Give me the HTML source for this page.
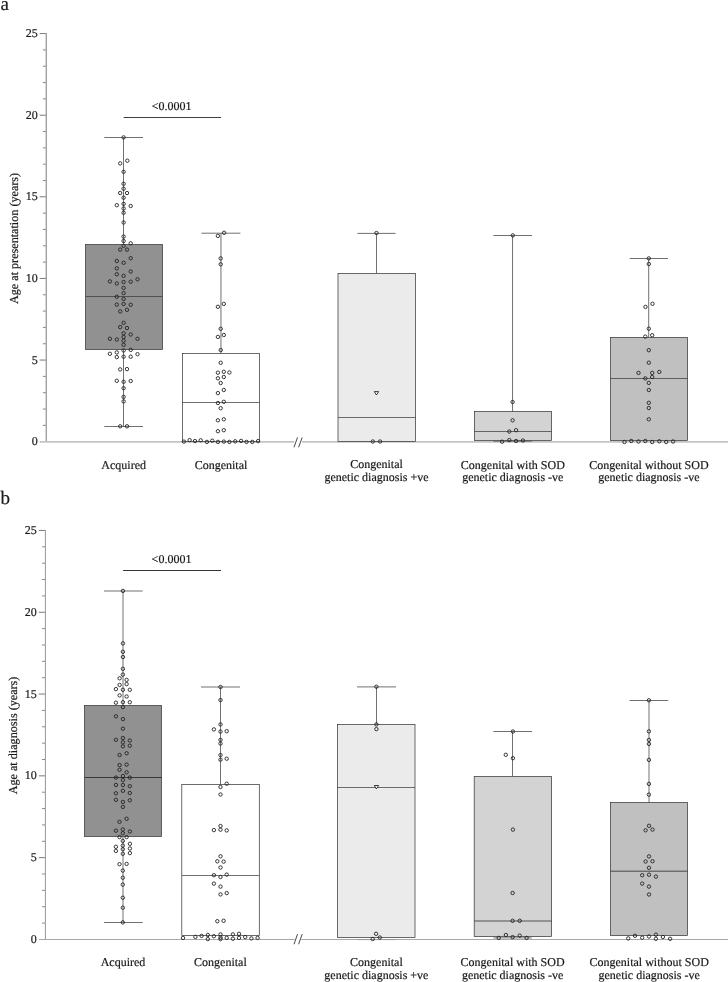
<!DOCTYPE html>
<html><head><meta charset="utf-8"><style>
html,body{margin:0;padding:0;background:#fff;width:728px;height:982px;overflow:hidden}
svg{display:block;will-change:transform}
text{font-family:"Liberation Serif",serif;fill:#1a1a1a;stroke:#1a1a1a;stroke-width:0.2px;text-rendering:geometricPrecision}
circle{fill:none;stroke:#222222;stroke-width:0.9}
</style></head><body>
<svg width="728" height="982" viewBox="0 0 728 982">
<text x="37.7" y="445.2" text-anchor="end" font-size="12">0</text>
<line x1="42.9" y1="425.38" x2="46.3" y2="425.38" stroke="#7a7a7a" stroke-width="0.9"/>
<line x1="42.9" y1="409.05" x2="46.3" y2="409.05" stroke="#7a7a7a" stroke-width="0.9"/>
<line x1="42.9" y1="392.73" x2="46.3" y2="392.73" stroke="#7a7a7a" stroke-width="0.9"/>
<line x1="42.9" y1="376.4" x2="46.3" y2="376.4" stroke="#7a7a7a" stroke-width="0.9"/>
<line x1="39.7" y1="360.07" x2="46.3" y2="360.07" stroke="#6a6a6a" stroke-width="0.9"/>
<text x="37.7" y="363.57" text-anchor="end" font-size="12">5</text>
<line x1="42.9" y1="343.75" x2="46.3" y2="343.75" stroke="#7a7a7a" stroke-width="0.9"/>
<line x1="42.9" y1="327.43" x2="46.3" y2="327.43" stroke="#7a7a7a" stroke-width="0.9"/>
<line x1="42.9" y1="311.1" x2="46.3" y2="311.1" stroke="#7a7a7a" stroke-width="0.9"/>
<line x1="42.9" y1="294.77" x2="46.3" y2="294.77" stroke="#7a7a7a" stroke-width="0.9"/>
<line x1="39.7" y1="278.45" x2="46.3" y2="278.45" stroke="#6a6a6a" stroke-width="0.9"/>
<text x="37.7" y="281.95" text-anchor="end" font-size="12">10</text>
<line x1="42.9" y1="262.12" x2="46.3" y2="262.12" stroke="#7a7a7a" stroke-width="0.9"/>
<line x1="42.9" y1="245.8" x2="46.3" y2="245.8" stroke="#7a7a7a" stroke-width="0.9"/>
<line x1="42.9" y1="229.47" x2="46.3" y2="229.47" stroke="#7a7a7a" stroke-width="0.9"/>
<line x1="42.9" y1="213.15" x2="46.3" y2="213.15" stroke="#7a7a7a" stroke-width="0.9"/>
<line x1="39.7" y1="196.82" x2="46.3" y2="196.82" stroke="#6a6a6a" stroke-width="0.9"/>
<text x="37.7" y="200.32" text-anchor="end" font-size="12">15</text>
<line x1="42.9" y1="180.5" x2="46.3" y2="180.5" stroke="#7a7a7a" stroke-width="0.9"/>
<line x1="42.9" y1="164.18" x2="46.3" y2="164.18" stroke="#7a7a7a" stroke-width="0.9"/>
<line x1="42.9" y1="147.85" x2="46.3" y2="147.85" stroke="#7a7a7a" stroke-width="0.9"/>
<line x1="42.9" y1="131.52" x2="46.3" y2="131.52" stroke="#7a7a7a" stroke-width="0.9"/>
<line x1="39.7" y1="115.2" x2="46.3" y2="115.2" stroke="#6a6a6a" stroke-width="0.9"/>
<text x="37.7" y="118.7" text-anchor="end" font-size="12">20</text>
<line x1="42.9" y1="98.88" x2="46.3" y2="98.88" stroke="#7a7a7a" stroke-width="0.9"/>
<line x1="42.9" y1="82.55" x2="46.3" y2="82.55" stroke="#7a7a7a" stroke-width="0.9"/>
<line x1="42.9" y1="66.23" x2="46.3" y2="66.23" stroke="#7a7a7a" stroke-width="0.9"/>
<line x1="42.9" y1="49.9" x2="46.3" y2="49.9" stroke="#7a7a7a" stroke-width="0.9"/>
<line x1="39.7" y1="33.57" x2="46.3" y2="33.57" stroke="#6a6a6a" stroke-width="0.9"/>
<text x="37.7" y="37.07" text-anchor="end" font-size="12">25</text>
<line x1="46.3" y1="33.12" x2="46.3" y2="441.7" stroke="#a0a0a0" stroke-width="1.4"/>
<line x1="39.7" y1="441.85" x2="294.3" y2="441.85" stroke="#c4c4c4" stroke-width="1.6"/>
<line x1="302" y1="441.85" x2="728" y2="441.85" stroke="#c4c4c4" stroke-width="1.6"/>
<line x1="297.5" y1="437.4" x2="294" y2="447.3" stroke="#333" stroke-width="0.9"/>
<line x1="302.2" y1="437.4" x2="298.6" y2="447.3" stroke="#333" stroke-width="0.9"/>
<text transform="translate(17.7,238.45) rotate(-90)" text-anchor="middle" font-size="12.15">Age at presentation (years)</text>
<text x="0.5" y="9.6" text-anchor="start" font-size="19">a</text>
<line x1="123.65" y1="117.5" x2="221" y2="117.5" stroke="#2a2a2a" stroke-width="0.9"/>
<text x="171.6" y="110.2" text-anchor="middle" font-size="12">&lt;0.0001</text>
<line x1="123.5" y1="137.5" x2="123.5" y2="244.5" stroke="#333333" stroke-width="0.7"/>
<line x1="104.3" y1="137.5" x2="143" y2="137.5" stroke="#333333" stroke-width="0.7"/>
<line x1="123.5" y1="349.5" x2="123.5" y2="426.5" stroke="#333333" stroke-width="0.7"/>
<line x1="104.3" y1="426.5" x2="143" y2="426.5" stroke="#333333" stroke-width="0.7"/>
<rect x="85.5" y="244.5" width="77.0" height="105.0" fill="#919191" stroke="#333333" stroke-width="0.72"/>
<line x1="85.5" y1="296.5" x2="162.5" y2="296.5" stroke="#333333" stroke-width="0.7"/>
<circle cx="123.6" cy="137.4" r="1.7"/>
<circle cx="127.3" cy="160.7" r="1.7"/>
<circle cx="120.2" cy="163.4" r="1.7"/>
<circle cx="123.6" cy="171.8" r="1.7"/>
<circle cx="123.6" cy="183.8" r="1.7"/>
<circle cx="123.6" cy="188.7" r="1.7"/>
<circle cx="120.2" cy="193.0" r="1.7"/>
<circle cx="127.0" cy="193.0" r="1.7"/>
<circle cx="123.6" cy="197.7" r="1.7"/>
<circle cx="123.6" cy="203.9" r="1.7"/>
<circle cx="116.8" cy="205.2" r="1.7"/>
<circle cx="130.7" cy="206.0" r="1.7"/>
<circle cx="123.6" cy="208.5" r="1.7"/>
<circle cx="123.6" cy="212.8" r="1.7"/>
<circle cx="123.6" cy="222.5" r="1.7"/>
<circle cx="123.6" cy="236.6" r="1.7"/>
<circle cx="123.6" cy="241.0" r="1.7"/>
<circle cx="130.7" cy="243.3" r="1.7"/>
<circle cx="123.6" cy="245.8" r="1.7"/>
<circle cx="120.2" cy="249.6" r="1.7"/>
<circle cx="127.0" cy="249.6" r="1.7"/>
<circle cx="130.7" cy="258.2" r="1.7"/>
<circle cx="116.8" cy="261.0" r="1.7"/>
<circle cx="123.6" cy="262.8" r="1.7"/>
<circle cx="116.8" cy="268.4" r="1.7"/>
<circle cx="130.7" cy="271.5" r="1.7"/>
<circle cx="116.8" cy="274.3" r="1.7"/>
<circle cx="123.6" cy="275.8" r="1.7"/>
<circle cx="137.5" cy="279.3" r="1.7"/>
<circle cx="109.9" cy="281.4" r="1.7"/>
<circle cx="116.8" cy="283.5" r="1.7"/>
<circle cx="123.6" cy="282.0" r="1.7"/>
<circle cx="130.7" cy="281.7" r="1.7"/>
<circle cx="123.6" cy="287.9" r="1.7"/>
<circle cx="123.6" cy="293.1" r="1.7"/>
<circle cx="116.8" cy="296.8" r="1.7"/>
<circle cx="123.6" cy="299.0" r="1.7"/>
<circle cx="116.8" cy="304.6" r="1.7"/>
<circle cx="123.6" cy="304.0" r="1.7"/>
<circle cx="130.7" cy="304.8" r="1.7"/>
<circle cx="127.0" cy="309.8" r="1.7"/>
<circle cx="120.2" cy="311.4" r="1.7"/>
<circle cx="123.6" cy="322.8" r="1.7"/>
<circle cx="120.2" cy="327.1" r="1.7"/>
<circle cx="127.0" cy="328.0" r="1.7"/>
<circle cx="123.6" cy="333.3" r="1.7"/>
<circle cx="130.7" cy="334.5" r="1.7"/>
<circle cx="123.6" cy="337.0" r="1.7"/>
<circle cx="109.9" cy="338.8" r="1.7"/>
<circle cx="116.8" cy="339.5" r="1.7"/>
<circle cx="123.6" cy="340.7" r="1.7"/>
<circle cx="137.5" cy="338.8" r="1.7"/>
<circle cx="123.6" cy="344.8" r="1.7"/>
<circle cx="123.6" cy="350.5" r="1.7"/>
<circle cx="130.7" cy="349.9" r="1.7"/>
<circle cx="116.8" cy="352.4" r="1.7"/>
<circle cx="109.9" cy="353.8" r="1.7"/>
<circle cx="137.5" cy="354.2" r="1.7"/>
<circle cx="116.8" cy="357.1" r="1.7"/>
<circle cx="123.6" cy="356.7" r="1.7"/>
<circle cx="130.7" cy="356.7" r="1.7"/>
<circle cx="120.2" cy="369.4" r="1.7"/>
<circle cx="127.0" cy="369.1" r="1.7"/>
<circle cx="116.8" cy="380.8" r="1.7"/>
<circle cx="123.6" cy="381.8" r="1.7"/>
<circle cx="130.7" cy="381.0" r="1.7"/>
<circle cx="123.6" cy="388.2" r="1.7"/>
<circle cx="123.6" cy="396.9" r="1.7"/>
<circle cx="123.6" cy="401.4" r="1.7"/>
<circle cx="120.2" cy="426.3" r="1.7"/>
<circle cx="127.0" cy="426.3" r="1.7"/>
<line x1="220.95" y1="233.2" x2="220.95" y2="353.5" stroke="#333333" stroke-width="0.7"/>
<line x1="201.4" y1="233.2" x2="240.4" y2="233.2" stroke="#333333" stroke-width="0.7"/>
<rect x="182.5" y="353.5" width="77.0" height="88.0" fill="#ffffff" stroke="#333333" stroke-width="0.72"/>
<line x1="182.5" y1="402.5" x2="259.5" y2="402.5" stroke="#333333" stroke-width="0.7"/>
<circle cx="224.1" cy="232.8" r="1.7"/>
<circle cx="217.9" cy="235.9" r="1.7"/>
<circle cx="220.7" cy="258.4" r="1.7"/>
<circle cx="220.7" cy="264.3" r="1.7"/>
<circle cx="223.8" cy="303.9" r="1.7"/>
<circle cx="217.9" cy="306.8" r="1.7"/>
<circle cx="220.7" cy="328.8" r="1.7"/>
<circle cx="223.8" cy="335.0" r="1.7"/>
<circle cx="217.9" cy="336.9" r="1.7"/>
<circle cx="220.7" cy="350.1" r="1.7"/>
<circle cx="220.7" cy="362.8" r="1.7"/>
<circle cx="217.9" cy="372.7" r="1.7"/>
<circle cx="223.8" cy="371.8" r="1.7"/>
<circle cx="229.4" cy="372.5" r="1.7"/>
<circle cx="217.9" cy="378.3" r="1.7"/>
<circle cx="223.8" cy="377.0" r="1.7"/>
<circle cx="220.7" cy="383.0" r="1.7"/>
<circle cx="223.8" cy="390.0" r="1.7"/>
<circle cx="217.9" cy="393.1" r="1.7"/>
<circle cx="217.9" cy="403.0" r="1.7"/>
<circle cx="223.8" cy="401.8" r="1.7"/>
<circle cx="220.7" cy="408.2" r="1.7"/>
<circle cx="217.9" cy="420.3" r="1.7"/>
<circle cx="223.8" cy="419.3" r="1.7"/>
<circle cx="217.9" cy="431.2" r="1.7"/>
<circle cx="223.8" cy="430.2" r="1.7"/>
<circle cx="183.9" cy="441.6" r="1.7"/>
<circle cx="189.6" cy="440.1" r="1.7"/>
<circle cx="195.0" cy="441.1" r="1.7"/>
<circle cx="200.7" cy="440.3" r="1.7"/>
<circle cx="206.9" cy="441.9" r="1.7"/>
<circle cx="212.3" cy="440.7" r="1.7"/>
<circle cx="217.9" cy="441.9" r="1.7"/>
<circle cx="223.8" cy="441.6" r="1.7"/>
<circle cx="229.4" cy="441.9" r="1.7"/>
<circle cx="235.2" cy="441.3" r="1.7"/>
<circle cx="241.1" cy="440.9" r="1.7"/>
<circle cx="246.5" cy="441.9" r="1.7"/>
<circle cx="252.3" cy="441.9" r="1.7"/>
<circle cx="258.1" cy="441.1" r="1.7"/>
<line x1="376.5" y1="233.4" x2="376.5" y2="273.5" stroke="#333333" stroke-width="0.7"/>
<line x1="357.4" y1="233.4" x2="395.6" y2="233.4" stroke="#333333" stroke-width="0.7"/>
<rect x="338.0" y="273.5" width="77.5" height="168.0" fill="#ebebeb" stroke="#333333" stroke-width="0.72"/>
<line x1="338" y1="417.5" x2="415.5" y2="417.5" stroke="#333333" stroke-width="0.7"/>
<circle cx="376.5" cy="233.0" r="1.7"/>
<circle cx="372.8" cy="441.5" r="1.7"/>
<circle cx="380.1" cy="441.5" r="1.7"/>
<path d="M374.30,391.6 L378.60,391.6 L376.45,395.0 Z" fill="#fff" stroke="#222222" stroke-width="0.9" stroke-linejoin="round"/>
<line x1="512.55" y1="235.5" x2="512.55" y2="411.5" stroke="#333333" stroke-width="0.7"/>
<line x1="493.3" y1="235.5" x2="532" y2="235.5" stroke="#333333" stroke-width="0.7"/>
<line x1="493.3" y1="441.1" x2="531.9" y2="441.1" stroke="#333333" stroke-width="0.7"/>
<rect x="474.5" y="411.5" width="77.0" height="29.0" fill="#d3d3d3" stroke="#333333" stroke-width="0.72"/>
<line x1="474.5" y1="431.5" x2="551.5" y2="431.5" stroke="#333333" stroke-width="0.7"/>
<circle cx="512.8" cy="235.4" r="1.7"/>
<circle cx="512.6" cy="402.0" r="1.7"/>
<circle cx="512.6" cy="420.3" r="1.7"/>
<circle cx="509.3" cy="431.5" r="1.7"/>
<circle cx="516.1" cy="430.2" r="1.7"/>
<circle cx="502.1" cy="441.7" r="1.7"/>
<circle cx="509.3" cy="440.1" r="1.7"/>
<circle cx="516.1" cy="441.0" r="1.7"/>
<circle cx="522.9" cy="440.5" r="1.7"/>
<line x1="648.7" y1="258.5" x2="648.7" y2="337.5" stroke="#333333" stroke-width="0.7"/>
<line x1="629.6" y1="258.5" x2="668" y2="258.5" stroke="#333333" stroke-width="0.7"/>
<rect x="610.5" y="337.5" width="77.0" height="103.0" fill="#c0c0c0" stroke="#333333" stroke-width="0.72"/>
<line x1="610.5" y1="378.5" x2="687.5" y2="378.5" stroke="#333333" stroke-width="0.7"/>
<circle cx="648.8" cy="258.4" r="1.7"/>
<circle cx="648.8" cy="264.0" r="1.7"/>
<circle cx="652.5" cy="303.8" r="1.7"/>
<circle cx="645.5" cy="306.9" r="1.7"/>
<circle cx="648.8" cy="328.7" r="1.7"/>
<circle cx="652.2" cy="335.2" r="1.7"/>
<circle cx="645.3" cy="336.6" r="1.7"/>
<circle cx="648.8" cy="350.2" r="1.7"/>
<circle cx="648.8" cy="362.7" r="1.7"/>
<circle cx="638.5" cy="372.9" r="1.7"/>
<circle cx="652.2" cy="372.9" r="1.7"/>
<circle cx="659.3" cy="371.9" r="1.7"/>
<circle cx="645.3" cy="378.4" r="1.7"/>
<circle cx="652.2" cy="377.0" r="1.7"/>
<circle cx="648.8" cy="382.9" r="1.7"/>
<circle cx="648.8" cy="390.0" r="1.7"/>
<circle cx="648.8" cy="402.8" r="1.7"/>
<circle cx="648.8" cy="408.0" r="1.7"/>
<circle cx="648.8" cy="419.3" r="1.7"/>
<circle cx="624.5" cy="442.0" r="1.7"/>
<circle cx="631.3" cy="441.0" r="1.7"/>
<circle cx="638.5" cy="441.5" r="1.7"/>
<circle cx="645.3" cy="441.0" r="1.7"/>
<circle cx="652.2" cy="442.0" r="1.7"/>
<circle cx="659.3" cy="441.3" r="1.7"/>
<circle cx="666.2" cy="442.0" r="1.7"/>
<circle cx="673.1" cy="441.5" r="1.7"/>
<text x="123.7" y="468.7" text-anchor="middle" font-size="12">Acquired</text>
<text x="221" y="468.7" text-anchor="middle" font-size="12">Congenital</text>
<text x="376.5" y="468.3" text-anchor="middle" font-size="12">Congenital</text>
<text x="376.5" y="481.4" text-anchor="middle" font-size="12">genetic diagnosis +ve</text>
<text x="512.8" y="468.6" text-anchor="middle" font-size="12">Congenital with SOD</text>
<text x="512.8" y="481.2" text-anchor="middle" font-size="12">genetic diagnosis -ve</text>
<text x="648.9" y="468.6" text-anchor="middle" font-size="12">Congenital without SOD</text>
<text x="648.9" y="481.2" text-anchor="middle" font-size="12">genetic diagnosis -ve</text>
<text x="36.85" y="942.95" text-anchor="end" font-size="12">0</text>
<line x1="42.05" y1="923.09" x2="45.45" y2="923.09" stroke="#7a7a7a" stroke-width="0.9"/>
<line x1="42.05" y1="906.73" x2="45.45" y2="906.73" stroke="#7a7a7a" stroke-width="0.9"/>
<line x1="42.05" y1="890.37" x2="45.45" y2="890.37" stroke="#7a7a7a" stroke-width="0.9"/>
<line x1="42.05" y1="874.01" x2="45.45" y2="874.01" stroke="#7a7a7a" stroke-width="0.9"/>
<line x1="38.85" y1="857.65" x2="45.45" y2="857.65" stroke="#6a6a6a" stroke-width="0.9"/>
<text x="36.85" y="861.15" text-anchor="end" font-size="12">5</text>
<line x1="42.05" y1="841.29" x2="45.45" y2="841.29" stroke="#7a7a7a" stroke-width="0.9"/>
<line x1="42.05" y1="824.93" x2="45.45" y2="824.93" stroke="#7a7a7a" stroke-width="0.9"/>
<line x1="42.05" y1="808.57" x2="45.45" y2="808.57" stroke="#7a7a7a" stroke-width="0.9"/>
<line x1="42.05" y1="792.21" x2="45.45" y2="792.21" stroke="#7a7a7a" stroke-width="0.9"/>
<line x1="38.85" y1="775.85" x2="45.45" y2="775.85" stroke="#6a6a6a" stroke-width="0.9"/>
<text x="36.85" y="779.35" text-anchor="end" font-size="12">10</text>
<line x1="42.05" y1="759.49" x2="45.45" y2="759.49" stroke="#7a7a7a" stroke-width="0.9"/>
<line x1="42.05" y1="743.13" x2="45.45" y2="743.13" stroke="#7a7a7a" stroke-width="0.9"/>
<line x1="42.05" y1="726.77" x2="45.45" y2="726.77" stroke="#7a7a7a" stroke-width="0.9"/>
<line x1="42.05" y1="710.41" x2="45.45" y2="710.41" stroke="#7a7a7a" stroke-width="0.9"/>
<line x1="38.85" y1="694.05" x2="45.45" y2="694.05" stroke="#6a6a6a" stroke-width="0.9"/>
<text x="36.85" y="697.55" text-anchor="end" font-size="12">15</text>
<line x1="42.05" y1="677.69" x2="45.45" y2="677.69" stroke="#7a7a7a" stroke-width="0.9"/>
<line x1="42.05" y1="661.33" x2="45.45" y2="661.33" stroke="#7a7a7a" stroke-width="0.9"/>
<line x1="42.05" y1="644.97" x2="45.45" y2="644.97" stroke="#7a7a7a" stroke-width="0.9"/>
<line x1="42.05" y1="628.61" x2="45.45" y2="628.61" stroke="#7a7a7a" stroke-width="0.9"/>
<line x1="38.85" y1="612.25" x2="45.45" y2="612.25" stroke="#6a6a6a" stroke-width="0.9"/>
<text x="36.85" y="615.75" text-anchor="end" font-size="12">20</text>
<line x1="42.05" y1="595.89" x2="45.45" y2="595.89" stroke="#7a7a7a" stroke-width="0.9"/>
<line x1="42.05" y1="579.53" x2="45.45" y2="579.53" stroke="#7a7a7a" stroke-width="0.9"/>
<line x1="42.05" y1="563.17" x2="45.45" y2="563.17" stroke="#7a7a7a" stroke-width="0.9"/>
<line x1="42.05" y1="546.81" x2="45.45" y2="546.81" stroke="#7a7a7a" stroke-width="0.9"/>
<line x1="38.85" y1="530.45" x2="45.45" y2="530.45" stroke="#6a6a6a" stroke-width="0.9"/>
<text x="36.85" y="533.95" text-anchor="end" font-size="12">25</text>
<line x1="45.45" y1="530" x2="45.45" y2="939.45" stroke="#a0a0a0" stroke-width="1.1"/>
<line x1="38.85" y1="939.5" x2="294.6" y2="939.5" stroke="#a8a8a8" stroke-width="1.15"/>
<line x1="301.3" y1="939.5" x2="728" y2="939.5" stroke="#a8a8a8" stroke-width="1.15"/>
<line x1="297.5" y1="934.15" x2="294" y2="944.25" stroke="#333" stroke-width="0.9"/>
<line x1="302.2" y1="934.15" x2="298.6" y2="944.25" stroke="#333" stroke-width="0.9"/>
<text transform="translate(16.9,735.45) rotate(-90)" text-anchor="middle" font-size="12.15">Age at diagnosis (years)</text>
<text x="0.4" y="504.2" text-anchor="start" font-size="19">b</text>
<line x1="123.1" y1="570.5" x2="221" y2="570.5" stroke="#2a2a2a" stroke-width="0.95"/>
<text x="171.5" y="563.1" text-anchor="middle" font-size="12">&lt;0.0001</text>
<line x1="123" y1="591" x2="123" y2="705.5" stroke="#333333" stroke-width="0.7"/>
<line x1="104" y1="591" x2="142.7" y2="591" stroke="#333333" stroke-width="0.7"/>
<line x1="123" y1="836.5" x2="123" y2="922.5" stroke="#333333" stroke-width="0.7"/>
<line x1="104" y1="922.5" x2="142.7" y2="922.5" stroke="#333333" stroke-width="0.7"/>
<rect x="84.5" y="705.5" width="77.0" height="131.0" fill="#919191" stroke="#333333" stroke-width="0.72"/>
<line x1="84.5" y1="777.5" x2="161.5" y2="777.5" stroke="#2a2a2a" stroke-width="0.85"/>
<circle cx="122.9" cy="590.9" r="1.7"/>
<circle cx="122.9" cy="643.4" r="1.7"/>
<circle cx="122.9" cy="651.8" r="1.7"/>
<circle cx="122.9" cy="657.0" r="1.7"/>
<circle cx="122.9" cy="668.8" r="1.7"/>
<circle cx="122.9" cy="674.6" r="1.7"/>
<circle cx="119.6" cy="678.3" r="1.7"/>
<circle cx="126.6" cy="679.9" r="1.7"/>
<circle cx="119.6" cy="684.9" r="1.7"/>
<circle cx="126.6" cy="684.1" r="1.7"/>
<circle cx="115.9" cy="689.1" r="1.7"/>
<circle cx="122.9" cy="689.8" r="1.7"/>
<circle cx="129.8" cy="689.8" r="1.7"/>
<circle cx="119.6" cy="695.4" r="1.7"/>
<circle cx="126.6" cy="696.5" r="1.7"/>
<circle cx="115.9" cy="702.7" r="1.7"/>
<circle cx="122.9" cy="702.2" r="1.7"/>
<circle cx="129.8" cy="702.2" r="1.7"/>
<circle cx="122.9" cy="707.1" r="1.7"/>
<circle cx="115.9" cy="716.3" r="1.7"/>
<circle cx="122.9" cy="719.1" r="1.7"/>
<circle cx="122.9" cy="728.7" r="1.7"/>
<circle cx="122.9" cy="738.0" r="1.7"/>
<circle cx="115.9" cy="739.8" r="1.7"/>
<circle cx="129.8" cy="740.5" r="1.7"/>
<circle cx="122.9" cy="742.3" r="1.7"/>
<circle cx="122.9" cy="746.3" r="1.7"/>
<circle cx="129.8" cy="745.7" r="1.7"/>
<circle cx="126.6" cy="753.3" r="1.7"/>
<circle cx="119.6" cy="755.0" r="1.7"/>
<circle cx="119.6" cy="765.1" r="1.7"/>
<circle cx="126.6" cy="764.6" r="1.7"/>
<circle cx="119.6" cy="769.8" r="1.7"/>
<circle cx="126.6" cy="772.3" r="1.7"/>
<circle cx="122.9" cy="776.0" r="1.7"/>
<circle cx="115.9" cy="777.6" r="1.7"/>
<circle cx="129.8" cy="777.6" r="1.7"/>
<circle cx="122.9" cy="780.1" r="1.7"/>
<circle cx="115.9" cy="785.0" r="1.7"/>
<circle cx="122.9" cy="785.0" r="1.7"/>
<circle cx="129.8" cy="786.2" r="1.7"/>
<circle cx="122.9" cy="790.8" r="1.7"/>
<circle cx="115.9" cy="793.3" r="1.7"/>
<circle cx="129.8" cy="793.0" r="1.7"/>
<circle cx="115.9" cy="799.8" r="1.7"/>
<circle cx="129.8" cy="800.3" r="1.7"/>
<circle cx="122.9" cy="801.9" r="1.7"/>
<circle cx="122.9" cy="806.9" r="1.7"/>
<circle cx="126.6" cy="818.8" r="1.7"/>
<circle cx="119.5" cy="821.8" r="1.7"/>
<circle cx="115.9" cy="830.7" r="1.7"/>
<circle cx="122.8" cy="829.5" r="1.7"/>
<circle cx="129.9" cy="831.5" r="1.7"/>
<circle cx="122.8" cy="833.2" r="1.7"/>
<circle cx="119.5" cy="837.1" r="1.7"/>
<circle cx="126.6" cy="837.1" r="1.7"/>
<circle cx="122.8" cy="840.9" r="1.7"/>
<circle cx="129.9" cy="843.8" r="1.7"/>
<circle cx="122.8" cy="845.6" r="1.7"/>
<circle cx="115.9" cy="846.8" r="1.7"/>
<circle cx="122.8" cy="849.2" r="1.7"/>
<circle cx="129.9" cy="848.5" r="1.7"/>
<circle cx="115.9" cy="850.9" r="1.7"/>
<circle cx="122.8" cy="853.8" r="1.7"/>
<circle cx="129.9" cy="853.1" r="1.7"/>
<circle cx="119.5" cy="864.2" r="1.7"/>
<circle cx="126.6" cy="863.9" r="1.7"/>
<circle cx="122.8" cy="870.6" r="1.7"/>
<circle cx="122.8" cy="877.7" r="1.7"/>
<circle cx="122.8" cy="884.6" r="1.7"/>
<circle cx="122.8" cy="897.7" r="1.7"/>
<circle cx="122.8" cy="907.7" r="1.7"/>
<circle cx="122.8" cy="922.4" r="1.7"/>
<line x1="220.5" y1="687" x2="220.5" y2="784.5" stroke="#333333" stroke-width="0.7"/>
<line x1="201" y1="687" x2="240" y2="687" stroke="#333333" stroke-width="0.7"/>
<rect x="181.8" y="784.5" width="77.5" height="151.0" fill="#ffffff" stroke="#333333" stroke-width="0.72"/>
<line x1="181.8" y1="875.5" x2="259.3" y2="875.5" stroke="#333333" stroke-width="0.7"/>
<circle cx="220.5" cy="687.0" r="1.7"/>
<circle cx="220.5" cy="700.1" r="1.7"/>
<circle cx="220.5" cy="724.4" r="1.7"/>
<circle cx="213.9" cy="729.4" r="1.7"/>
<circle cx="220.5" cy="731.6" r="1.7"/>
<circle cx="226.7" cy="731.2" r="1.7"/>
<circle cx="220.5" cy="739.9" r="1.7"/>
<circle cx="220.5" cy="743.6" r="1.7"/>
<circle cx="220.5" cy="755.1" r="1.7"/>
<circle cx="220.5" cy="759.7" r="1.7"/>
<circle cx="226.7" cy="758.7" r="1.7"/>
<circle cx="226.7" cy="783.7" r="1.7"/>
<circle cx="220.5" cy="787.0" r="1.7"/>
<circle cx="220.5" cy="794.5" r="1.7"/>
<circle cx="220.5" cy="826.0" r="1.7"/>
<circle cx="213.9" cy="830.1" r="1.7"/>
<circle cx="220.5" cy="829.7" r="1.7"/>
<circle cx="226.7" cy="830.4" r="1.7"/>
<circle cx="220.5" cy="856.3" r="1.7"/>
<circle cx="217.3" cy="861.3" r="1.7"/>
<circle cx="223.6" cy="861.6" r="1.7"/>
<circle cx="220.5" cy="867.5" r="1.7"/>
<circle cx="213.9" cy="875.2" r="1.7"/>
<circle cx="220.5" cy="877.0" r="1.7"/>
<circle cx="226.7" cy="874.6" r="1.7"/>
<circle cx="213.9" cy="883.6" r="1.7"/>
<circle cx="220.5" cy="886.6" r="1.7"/>
<circle cx="220.5" cy="894.4" r="1.7"/>
<circle cx="226.7" cy="893.1" r="1.7"/>
<circle cx="217.3" cy="921.2" r="1.7"/>
<circle cx="223.6" cy="920.8" r="1.7"/>
<circle cx="183.0" cy="937.9" r="1.7"/>
<circle cx="195.4" cy="936.9" r="1.7"/>
<circle cx="201.6" cy="935.9" r="1.7"/>
<circle cx="207.8" cy="935.0" r="1.7"/>
<circle cx="207.8" cy="939.1" r="1.7"/>
<circle cx="213.9" cy="936.2" r="1.7"/>
<circle cx="220.5" cy="934.4" r="1.7"/>
<circle cx="220.5" cy="937.5" r="1.7"/>
<circle cx="220.5" cy="939.1" r="1.7"/>
<circle cx="226.7" cy="937.9" r="1.7"/>
<circle cx="232.9" cy="934.4" r="1.7"/>
<circle cx="232.9" cy="938.7" r="1.7"/>
<circle cx="239.0" cy="933.8" r="1.7"/>
<circle cx="239.0" cy="937.9" r="1.7"/>
<circle cx="245.2" cy="937.1" r="1.7"/>
<circle cx="251.4" cy="938.4" r="1.7"/>
<circle cx="257.6" cy="937.9" r="1.7"/>
<line x1="376.5" y1="686.9" x2="376.5" y2="724.5" stroke="#333333" stroke-width="0.7"/>
<line x1="357" y1="686.9" x2="396" y2="686.9" stroke="#333333" stroke-width="0.7"/>
<line x1="357.2" y1="939.6" x2="395.5" y2="939.6" stroke="#999" stroke-width="1.0"/>
<rect x="337.5" y="724.5" width="77.5" height="213.0" fill="#ebebeb" stroke="#333333" stroke-width="0.72"/>
<line x1="337.5" y1="787.5" x2="415" y2="787.5" stroke="#333333" stroke-width="0.7"/>
<circle cx="376.4" cy="686.7" r="1.7"/>
<circle cx="376.4" cy="724.4" r="1.7"/>
<circle cx="376.4" cy="729.1" r="1.7"/>
<circle cx="376.1" cy="933.8" r="1.7"/>
<circle cx="372.7" cy="939.0" r="1.7"/>
<circle cx="379.8" cy="937.5" r="1.7"/>
<path d="M374.25,785.5 L378.55,785.5 L376.4,788.9 Z" fill="#fff" stroke="#222222" stroke-width="0.9" stroke-linejoin="round"/>
<line x1="512.5" y1="731.5" x2="512.5" y2="776.5" stroke="#333333" stroke-width="0.7"/>
<line x1="493.3" y1="731.5" x2="532" y2="731.5" stroke="#333333" stroke-width="0.7"/>
<line x1="493.5" y1="937.9" x2="531.8" y2="937.9" stroke="#333333" stroke-width="0.7"/>
<rect x="474.2" y="776.5" width="77.3" height="160.0" fill="#d3d3d3" stroke="#333333" stroke-width="0.72"/>
<line x1="474.2" y1="921" x2="551.5" y2="921" stroke="#333" stroke-width="0.8"/>
<circle cx="512.9" cy="731.5" r="1.7"/>
<circle cx="505.8" cy="754.8" r="1.7"/>
<circle cx="512.9" cy="758.2" r="1.7"/>
<circle cx="512.9" cy="829.6" r="1.7"/>
<circle cx="512.6" cy="893.0" r="1.7"/>
<circle cx="512.6" cy="920.8" r="1.7"/>
<circle cx="519.7" cy="920.8" r="1.7"/>
<circle cx="498.7" cy="937.9" r="1.7"/>
<circle cx="505.9" cy="935.0" r="1.7"/>
<circle cx="512.6" cy="937.1" r="1.7"/>
<circle cx="519.7" cy="935.6" r="1.7"/>
<circle cx="526.6" cy="937.9" r="1.7"/>
<line x1="649" y1="700.5" x2="649" y2="802.5" stroke="#333333" stroke-width="0.7"/>
<line x1="629.6" y1="700.5" x2="668.3" y2="700.5" stroke="#333333" stroke-width="0.7"/>
<rect x="610.5" y="802.5" width="77.0" height="133.0" fill="#c0c0c0" stroke="#333333" stroke-width="0.72"/>
<line x1="610.5" y1="871.2" x2="687.5" y2="871.2" stroke="#333" stroke-width="0.85"/>
<circle cx="648.9" cy="700.3" r="1.7"/>
<circle cx="648.9" cy="731.4" r="1.7"/>
<circle cx="648.9" cy="739.9" r="1.7"/>
<circle cx="648.9" cy="743.9" r="1.7"/>
<circle cx="648.9" cy="759.9" r="1.7"/>
<circle cx="648.9" cy="783.9" r="1.7"/>
<circle cx="648.9" cy="794.6" r="1.7"/>
<circle cx="649.0" cy="825.8" r="1.7"/>
<circle cx="645.6" cy="830.3" r="1.7"/>
<circle cx="652.5" cy="829.6" r="1.7"/>
<circle cx="649.0" cy="856.4" r="1.7"/>
<circle cx="645.6" cy="861.5" r="1.7"/>
<circle cx="652.5" cy="861.2" r="1.7"/>
<circle cx="649.0" cy="867.8" r="1.7"/>
<circle cx="642.2" cy="875.2" r="1.7"/>
<circle cx="649.0" cy="874.7" r="1.7"/>
<circle cx="655.9" cy="876.6" r="1.7"/>
<circle cx="642.2" cy="883.6" r="1.7"/>
<circle cx="649.0" cy="886.6" r="1.7"/>
<circle cx="649.0" cy="894.5" r="1.7"/>
<circle cx="628.2" cy="938.4" r="1.7"/>
<circle cx="635.0" cy="935.8" r="1.7"/>
<circle cx="642.2" cy="937.7" r="1.7"/>
<circle cx="649.0" cy="936.5" r="1.7"/>
<circle cx="655.9" cy="934.7" r="1.7"/>
<circle cx="655.9" cy="938.8" r="1.7"/>
<circle cx="662.9" cy="937.0" r="1.7"/>
<circle cx="670.1" cy="938.8" r="1.7"/>
<text x="123" y="966.1" text-anchor="middle" font-size="12">Acquired</text>
<text x="220.4" y="966.1" text-anchor="middle" font-size="12">Congenital</text>
<text x="376.4" y="965.9" text-anchor="middle" font-size="12">Congenital</text>
<text x="376.4" y="978.9" text-anchor="middle" font-size="12">genetic diagnosis +ve</text>
<text x="512.6" y="966.2" text-anchor="middle" font-size="12">Congenital with SOD</text>
<text x="512.6" y="978.9" text-anchor="middle" font-size="12">genetic diagnosis -ve</text>
<text x="649.2" y="966.2" text-anchor="middle" font-size="12">Congenital without SOD</text>
<text x="649.2" y="978.9" text-anchor="middle" font-size="12">genetic diagnosis -ve</text>
</svg>
</body></html>
